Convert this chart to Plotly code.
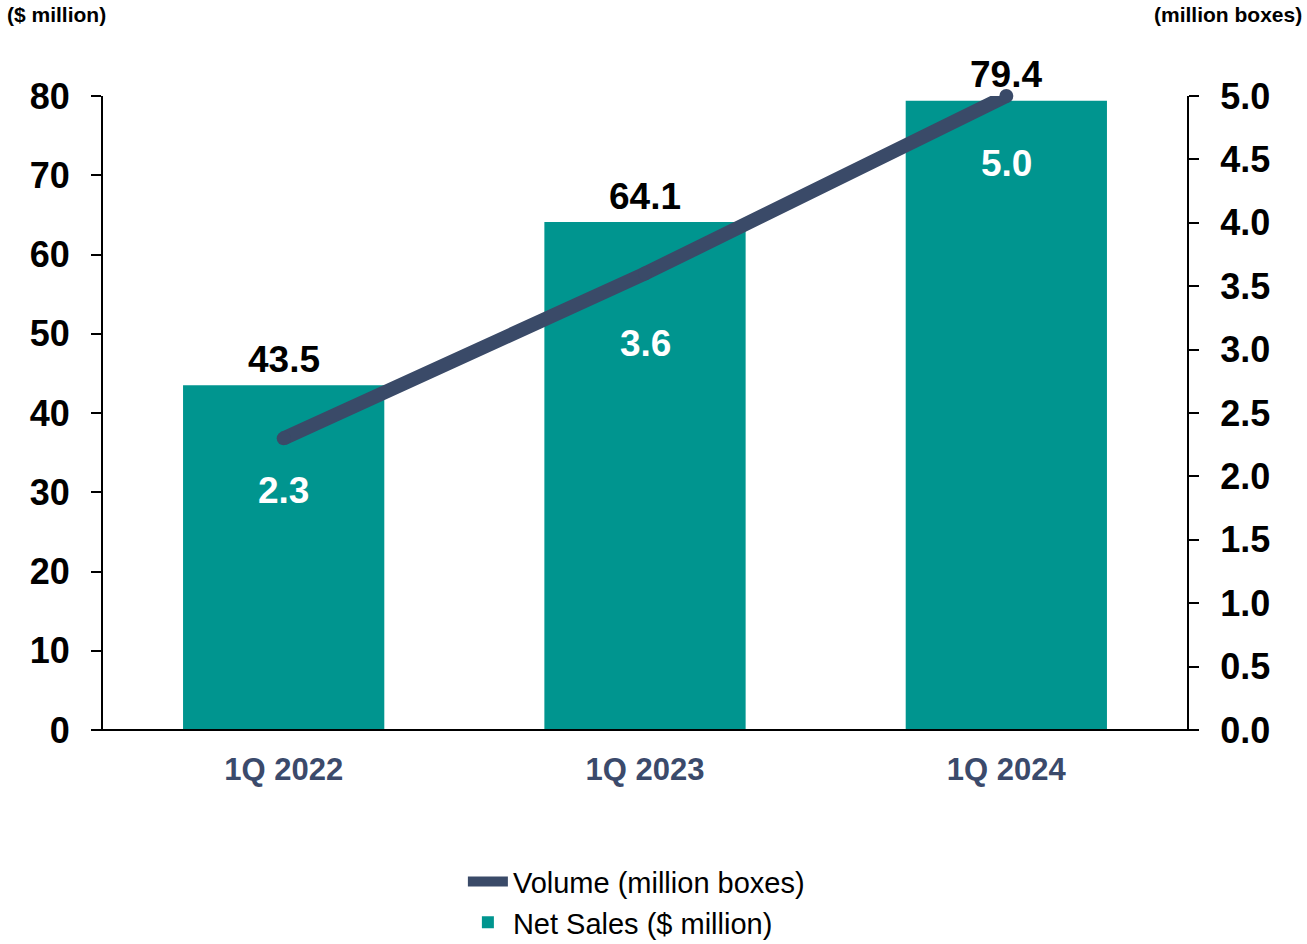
import plotly.graph_objects as go

categories = ["1Q 2022", "1Q 2023", "1Q 2024"]
net_sales = [43.5, 64.1, 79.4]
volume = [2.3, 3.6, 5.0]
left_ticks = [0, 10, 20, 30, 40, 50, 60, 70, 80]
right_ticks = [0.0, 0.5, 1.0, 1.5, 2.0, 2.5, 3.0, 3.5, 4.0, 4.5, 5.0]
volume_label_shift = [-52, -70, -67]

TEAL = "#00958F"
NAVY = "#3A4A68"
FONT = "Arial, 'Liberation Sans', sans-serif"

fig = go.Figure()
fig.add_trace(go.Bar(
    x=categories, y=net_sales, name="Net Sales ($ million)",
    marker=dict(color=TEAL, line=dict(width=0)), yaxis="y", legendrank=2,
))
fig.add_trace(go.Scatter(
    x=categories, y=volume, name="Volume (million boxes)", yaxis="y2",
    mode="lines", line=dict(color=NAVY, width=14),
    legendrank=1, cliponaxis=False,
))
fig.add_trace(go.Scatter(
    x=categories, y=volume, yaxis="y2", mode="markers", showlegend=False,
    marker=dict(color=NAVY, size=14), cliponaxis=False, hoverinfo="skip",
))

annotations = []
for c, v in zip(categories, net_sales):
    annotations.append(dict(x=c, y=v, xref="x", yref="y", text=f"<b>{v:.1f}</b>",
                            showarrow=False, yanchor="middle", yshift=26,
                            font=dict(family=FONT, size=37, color="#000000")))
for c, v, s in zip(categories, volume, volume_label_shift):
    annotations.append(dict(x=c, y=v, xref="x", yref="y2", text=f"<b>{v:.1f}</b>",
                            showarrow=False, yanchor="middle", yshift=s,
                            font=dict(family=FONT, size=37, color="#FFFFFF")))
annotations.append(dict(x=-0.0904, y=1.129, xref="paper", yref="paper", text="<b>($ million)</b>",
                        xanchor="left", yanchor="middle", showarrow=False,
                        font=dict(family=FONT, size=21, color="#000000")))
annotations.append(dict(x=1.108, y=1.129, xref="paper", yref="paper", text="<b>(million boxes)</b>",
                        xanchor="right", yanchor="middle", showarrow=False,
                        font=dict(family=FONT, size=21, color="#000000")))

fig.update_layout(
    width=1307, height=944,
    margin=dict(l=103, r=120, t=96, b=214, autoexpand=False),
    paper_bgcolor="white", plot_bgcolor="white",
    font=dict(family=FONT, color="#000000"),
    bargap=0.443,
    showlegend=True,
    legend=dict(orientation="v", x=0.332, y=-0.199, xanchor="left", yanchor="top",
                font=dict(family=FONT, size=29, color="#000000"),
                bgcolor="rgba(0,0,0,0)", itemwidth=40),
    xaxis=dict(
        type="category", range=[-0.5, 2.5], showgrid=False, zeroline=False,
        showline=False, ticks="", ticklabelstandoff=18,
        tickfont=dict(family=FONT, size=31, color="#3B4A6B", weight="bold"),
    ),
    yaxis=dict(
        range=[0, 80], tickvals=left_ticks, showgrid=False, zeroline=False,
        showline=True, linecolor="#000000", linewidth=2,
        ticks="outside", ticklen=10, tickwidth=2, tickcolor="#000000",
        ticklabelstandoff=14,
        tickfont=dict(family=FONT, size=36, color="#000000", weight="bold"),
    ),
    yaxis2=dict(
        range=[0, 5], tickvals=right_ticks, tickformat=".1f", overlaying="y", side="right",
        showgrid=False, zeroline=False,
        showline=True, linecolor="#000000", linewidth=2,
        ticks="outside", ticklen=10, tickwidth=2, tickcolor="#000000",
        ticklabelstandoff=14,
        tickfont=dict(family=FONT, size=36, color="#000000", weight="bold"),
    ),
    shapes=[dict(type="line", xref="paper", yref="paper", x0=-0.009, x1=1.009, y0=0, y1=0,
                 line=dict(color="#000000", width=2))],
    annotations=annotations,
)

fig.write_html("out.html")
